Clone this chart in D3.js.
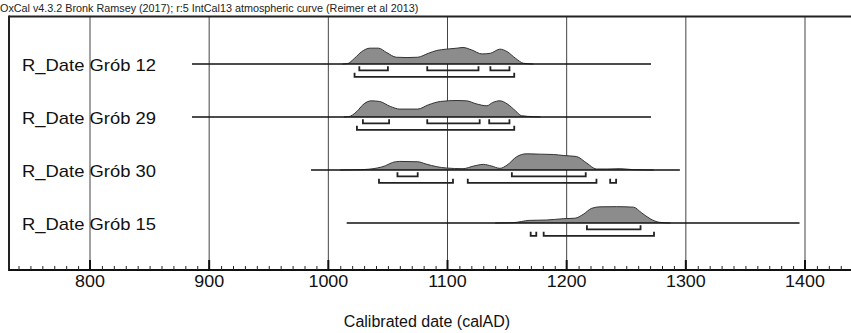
<!DOCTYPE html>
<html><head><meta charset="utf-8">
<script src="https://cdn.jsdelivr.net/npm/d3@7"></script>
<style>body{margin:0;background:#fff}svg{display:block}text{font-family:"Liberation Sans",Arial,sans-serif}</style>
</head><body>
<script>
const names = ["R_Date Grób 12","R_Date Grób 29","R_Date Grób 30","R_Date Grób 15"];
const tickYears = [800,900,1000,1100,1200,1300,1400];
const lineStart = [885.6, 885.6, 985.5, 1015.4];
const lineEnd = [1270.8, 1270.8, 1295, 1395.4];
const dist12 = [[1012,0],[1016,0.02],[1022,0.35],[1028,0.75],[1035,0.96],[1042,0.96],[1049,0.69],[1057,0.41],[1066,0.39],[1075,0.41],[1084,0.65],[1091,0.82],[1099,0.9],[1108,0.96],[1113,1.0],[1120,0.86],[1129,0.61],[1136,0.65],[1144,0.9],[1150,0.75],[1157,0.35],[1164,0.04],[1172,0]];
const dist29 = [[1013,0],[1017,0.02],[1024,0.34],[1029,0.74],[1036,0.98],[1043,0.94],[1052,0.64],[1060,0.48],[1075,0.48],[1084,0.74],[1094,0.94],[1108,1.0],[1116,0.98],[1124,0.8],[1133,0.68],[1138,0.88],[1144,0.98],[1150,0.8],[1157,0.38],[1162,0.08],[1172,0.02],[1178,0]];
const dist30 = [[1010,0],[1027,0.02],[1041,0.12],[1048,0.26],[1054,0.46],[1060,0.52],[1075,0.5],[1082,0.36],[1091,0.2],[1099,0.12],[1113,0.08],[1122,0.24],[1130,0.34],[1137,0.24],[1144,0.1],[1150,0.3],[1158,0.8],[1166,0.98],[1178,0.96],[1189,0.94],[1197,0.88],[1208,0.82],[1217,0.41],[1225,0.06],[1234,0.06],[1245,0.08],[1256,0.02],[1273,0]];
const dist15 = [[1140,0],[1155,0.02],[1169,0.16],[1183,0.18],[1197,0.26],[1207,0.29],[1214,0.53],[1221,0.89],[1228,0.98],[1242,0.99],[1256,0.96],[1263,0.61],[1270,0.26],[1278,0.04],[1287,0]];
const dists = [dist12, dist29, dist30, dist15];
const hpd68 = [[[1026,1050],[1083,1126],[1136,1152]],[[1029,1051],[1083,1127],[1135,1152]],[[1058,1075],[1154,1216]],[[1217,1262]]];
const hpd95 = [[[1022,1156]],[[1024,1156]],[[1042.5,1104.6],[1117,1225],[1236.5,1241.5]],[[1169.8,1174.5],[1180.7,1273.3]]];
const headerText = "OxCal v4.3.2 Bronk Ramsey (2017); r:5 IntCal13 atmospheric curve (Reimer et al 2013)";
const xTitle = "Calibrated date (calAD)";

const W = 851, H = 333;
const svg = d3.select("body").append("svg").attr("width", W).attr("height", H);
const x = d3.scaleLinear().domain([800,1400]).range([90,805]);
const y = d3.scalePoint().domain(names).range([64,223]);
const h = d3.scaleLinear().domain([0,1]).range([0,16.5]);
const frameTop = 16.5, axisY = 270, frameLeft = 9;
const SX = 1.12;

svg.append("text").attr("transform",`translate(0,12) scale(1.08,1)`).attr("font-size",10).attr("fill","#222").text(headerText);

svg.append("g").selectAll("line").data(tickYears).join("line")
  .attr("x1",d=>x(d)).attr("x2",d=>x(d)).attr("y1",frameTop).attr("y2",axisY)
  .attr("stroke","#444").attr("stroke-width",1);

svg.append("line").attr("x1",frameLeft).attr("x2",W).attr("y1",frameTop).attr("y2",frameTop).attr("stroke","#222").attr("stroke-width",2);
svg.append("line").attr("x1",frameLeft).attr("x2",frameLeft).attr("y1",frameTop-1).attr("y2",axisY+1).attr("stroke","#222").attr("stroke-width",2);

svg.append("line").attr("x1",frameLeft).attr("x2",W).attr("y1",axisY).attr("y2",axisY).attr("stroke","#111").attr("stroke-width",2);
const minor = d3.range(740,1440,10).filter(d=>d%100!==0 && x(d)>frameLeft && x(d)<W);
svg.append("g").selectAll("line").data(minor).join("line")
  .attr("x1",d=>x(d)+0.5).attr("x2",d=>x(d)+0.5).attr("y1",axisY-4).attr("y2",axisY)
  .attr("stroke","#222").attr("stroke-width",1);
svg.append("g").selectAll("line").data(tickYears).join("line")
  .attr("x1",d=>x(d)).attr("x2",d=>x(d)).attr("y1",axisY-10).attr("y2",axisY)
  .attr("stroke","#111").attr("stroke-width",2);
svg.append("g").selectAll("text").data(tickYears).join("text")
  .attr("transform",d=>`translate(${x(d)},287) scale(${SX},1)`)
  .attr("text-anchor","middle").attr("font-size",16).attr("fill","#111").text(d=>d);
svg.append("text").attr("transform",`translate(427,327)`)
  .attr("text-anchor","middle").attr("font-size",16).attr("fill","#111").text(xTitle);

names.forEach((n,i)=>{
  const y0 = y(n);
  const g = svg.append("g");
  const area = d3.area().x(d=>x(d[0])).y0(y0).y1(d=>y0-h(d[1])).curve(d3.curveMonotoneX);
  const line = d3.line().x(d=>x(d[0])).y(d=>y0-h(d[1])).curve(d3.curveMonotoneX);
  g.append("path").datum(dists[i]).attr("d",area).attr("fill","#8c8c8c");
  g.append("path").datum(dists[i]).attr("d",line).attr("fill","none").attr("stroke","#333").attr("stroke-width",1);
  g.append("line").attr("x1",x(lineStart[i])).attr("x2",x(lineEnd[i])).attr("y1",y0).attr("y2",y0).attr("stroke","#111").attr("stroke-width",1.3);
  const bracket = (ranges, off) => {
    const by = y0 + off;
    g.append("g").selectAll("path").data(ranges).join("path")
      .attr("d",r=>`M${x(r[0])},${by-4}V${by}H${x(r[1])}V${by-4}`)
      .attr("fill","none").attr("stroke","#222").attr("stroke-width",1.8);
  };
  bracket(hpd68[i], 6.3);
  bracket(hpd95[i], 12.8);
  svg.append("text").attr("transform",`translate(22,${y0+7}) scale(1.15,1)`)
    .attr("font-size",16).attr("fill","#111").text(n);
});
</script>
</body></html>
